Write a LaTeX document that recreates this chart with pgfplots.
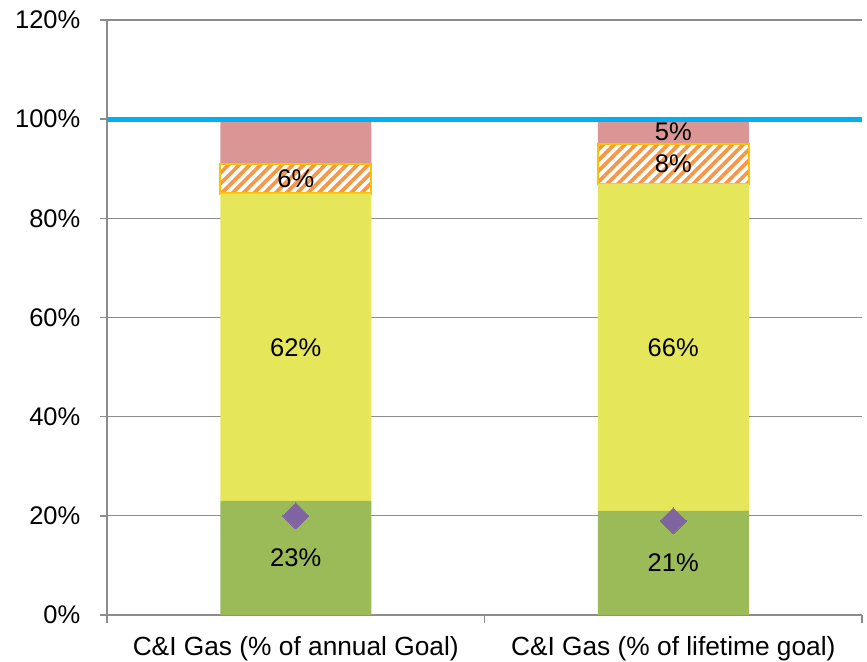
\documentclass[border=0pt]{standalone}
\usepackage{pgfplots}
\pgfplotsset{compat=1.18}
\usepackage{fontspec}
\setmainfont{Liberation Sans}
\usetikzlibrary{patterns.meta}

\definecolor{segGreen}{HTML}{9BBB59}
\definecolor{segYellow}{HTML}{E6E65A}
\definecolor{segPink}{HTML}{D99694}
\definecolor{hatchOrange}{HTML}{F79646}
\definecolor{hatchEdge}{HTML}{FFC000}
\definecolor{targetBlue}{HTML}{00B0F0}
\definecolor{markPurple}{HTML}{8064A2}
\definecolor{axisGray}{HTML}{8C8C8C}

\pgfplotsset{
  commonaxis/.style={
    at={(0,0)}, anchor=south west,
    scale only axis, width=755bp, height=595bp,
    xmin=-0.5, xmax=1.5, ymin=0, ymax=120,
  },
  % segment values printed in the middle of each segment
  seglabel/.style={
    point meta=rawy,
    every node near coord/.append style={anchor=center, text=black},
  },
}

\begin{document}
\fontsize{25.5bp}{30bp}\selectfont
\begin{tikzpicture}
\begin{axis}[commonaxis,
  ybar stacked, bar width=0.4,
  axis x line*=bottom, axis y line*=left,
  axis line style={axisGray, line width=1.5bp},
  ymajorgrids, grid style={axisGray, line width=1.2bp},
  ytick={0,20,...,120},
  yticklabel={\pgfmathprintnumber{\tick}\%},
  /pgf/number format/assume math mode=true,
  yticklabel style={xshift=-11bp},
  xtick={0,1},
  xticklabels={C\&I Gas (\% of annual Goal), C\&I Gas (\% of lifetime goal)},
  xticklabel style={yshift=-6bp, font=\fontsize{26.3bp}{30bp}\selectfont},
  minor xtick={-0.5,0.5,1.5},
  tick align=outside,
  major tick length=7bp, minor tick length=8bp,
  tick style={axisGray, line width=1.5bp},
  major x tick style={draw=none},
  every tick label/.append style={text=black},
]
% achieved
\addplot[fill=segGreen, draw=none, seglabel,
  nodes near coords={\pgfmathprintnumber{\pgfplotspointmeta}\%}]
  coordinates {(0,23) (1,21)};
% in progress
\addplot[fill=segYellow, draw=none, seglabel,
  nodes near coords={\pgfmathprintnumber{\pgfplotspointmeta}\%}]
  coordinates {(0,62) (1,66)};
% pipeline
\addplot[pattern={Lines[angle=45,distance=7.6bp,line width=3.6bp]},
  pattern color=hatchOrange, draw=hatchEdge, line width=2.2bp, seglabel,
  nodes near coords={\pgfmathprintnumber{\pgfplotspointmeta}\%}]
  coordinates {(0,6) (1,8)};
% remaining gap
\addplot[fill=segPink, draw=none, seglabel,
  nodes near coords={\ifnum\coordindex=1 \pgfmathprintnumber{\pgfplotspointmeta}\%\fi}]
  coordinates {(0,9) (1,5)};
\end{axis}

\begin{axis}[commonaxis, hide axis]
% goal line
\addplot[targetBlue, line width=5bp] coordinates {(-0.5,100) (1.5,100)};
% expected progress
\addplot[markPurple, only marks, mark=square*, mark size=9.2bp,
  mark options={rotate=45, fill=markPurple, draw=markPurple, line width=0pt}]
  coordinates {(0,20) (1,19)};
\end{axis}

\pgfresetboundingbox
\path[use as bounding box] (-107bp,-47bp) rectangle (760bp,615bp);
\end{tikzpicture}
\end{document}
